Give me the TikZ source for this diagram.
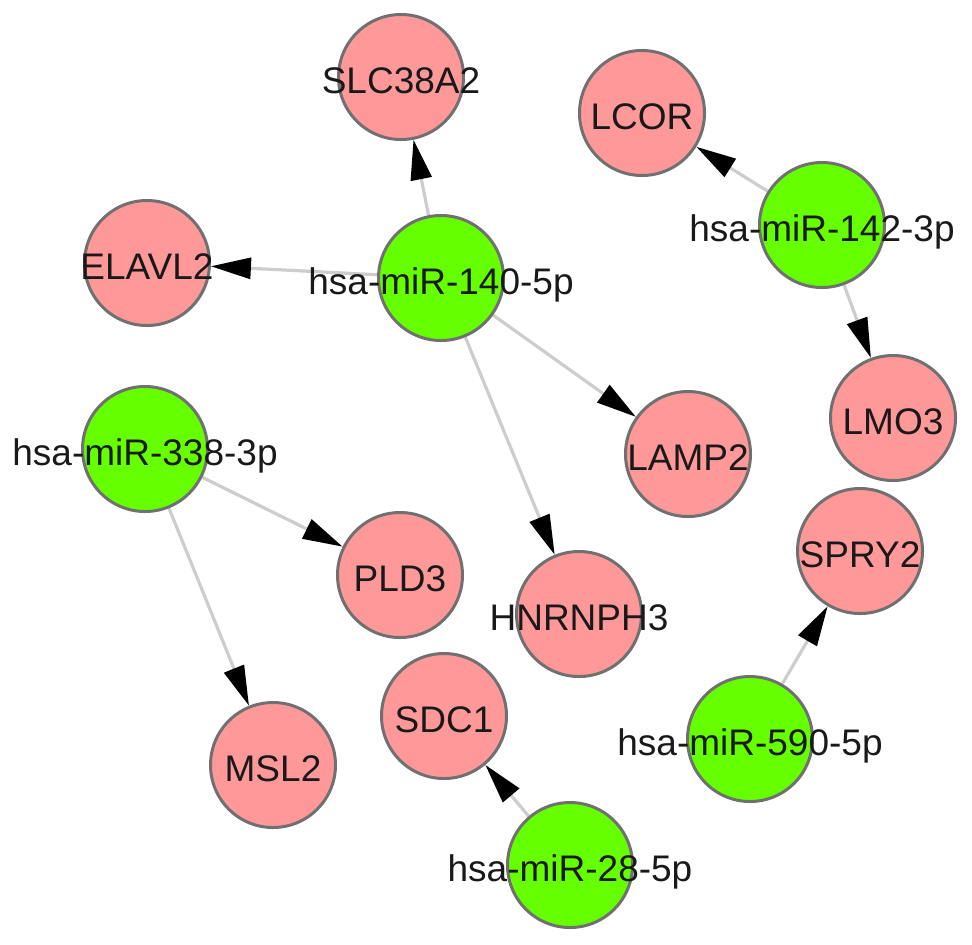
\documentclass[tikz,border=0pt]{standalone}
\usepackage{fontspec}
\setmainfont{Liberation Sans}
\usetikzlibrary{arrows.meta,backgrounds}
\definecolor{gene}{RGB}{255,153,153}
\definecolor{mirna}{RGB}{102,255,0}
\definecolor{rim}{RGB}{112,112,112}
\definecolor{link}{RGB}{205,205,205}
\definecolor{ink}{RGB}{25,25,25}

\begin{document}
\begin{tikzpicture}[x=0.5pt,y=-0.5pt]
	\tikzset{
		target/.style={circle,draw=rim,line width=1.5pt,fill=gene,
			minimum size=62.5pt,inner sep=0pt},
		mir/.style={target,fill=mirna},
		every label/.style={font=\fontsize{18.5}{22}\selectfont,text=ink,
			inner sep=0pt,text height=13.2pt,text depth=0pt,yshift=-1.5pt},
		hit/.style={draw=link,line width=1.6pt,
			-{Triangle[length=20pt,width=10.5pt,color=black]}}}
	\useasboundingbox (0,0) rectangle (972,944);
	% microRNAs
	\node[mir,label=center:hsa-miR-140-5p](m140) at (441,278){};
	\node[mir,label=center:hsa-miR-142-3p](m142) at (822,225){};
	\node[mir,label=center:hsa-miR-338-3p](m338) at (145,449){};
	\node[mir,label=center:hsa-miR-590-5p](m590) at (750,739){};
	\node[mir,label=center:hsa-miR-28-5p](m28) at (570,865){};
	% targets
	\node[target,label=center:SLC38A2](slc) at (401,77){};
	\node[target,label=center:ELAVL2](elavl) at (147,263){};
	\node[target,label=center:LAMP2](lamp) at (688,454){};
	\node[target,label=center:HNRNPH3](hnrnph) at (579,614){};
	\node[target,label=center:LCOR](lcor) at (642,113){};
	\node[target,label=center:LMO3](lmo) at (893,418){};
	\node[target,label=center:PLD3](pld) at (400,575){};
	\node[target,label=center:MSL2](msl) at (273,765){};
	\node[target,label=center:SPRY2](spry) at (860,551){};
	\node[target,label=center:SDC1](sdc) at (444,716){};
	\begin{scope}[on background layer]
		\draw[hit](m140)--(slc);
		\draw[hit](m140)--(elavl);
		\draw[hit](m140)--(lamp);
		\draw[hit](m140)--(hnrnph);
		\draw[hit](m142)--(lcor);
		\draw[hit](m142)--(lmo);
		\draw[hit](m338)--(pld);
		\draw[hit](m338)--(msl);
		\draw[hit](m590)--(spry);
		\draw[hit](m28)--(sdc);
	\end{scope}
\end{tikzpicture}
\end{document}
